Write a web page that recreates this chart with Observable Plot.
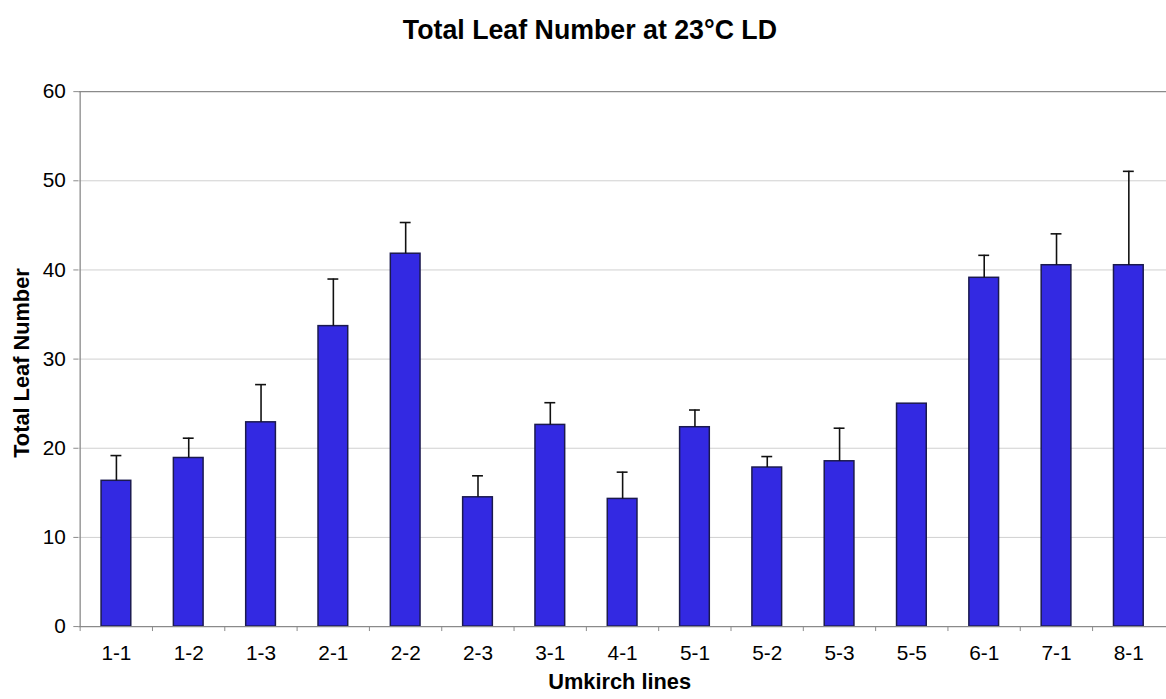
<!DOCTYPE html>
<html>
<head>
<meta charset="utf-8">
<script src="https://cdn.jsdelivr.net/npm/d3@7"></script>
<script src="https://cdn.jsdelivr.net/npm/@observablehq/plot@0.6"></script>
<style>
  html, body { margin: 0; padding: 0; background: #fff; overflow: hidden; }
  #chart { width: 1166px; height: 699px; overflow: hidden; }
</style>
</head>
<body>
<div id="chart"></div>
<script>
// Umkirch lines and their mean total leaf number (upper error shown as whisker)
const lines = ["1-1", "1-2", "1-3", "2-1", "2-2", "2-3", "3-1", "4-1", "5-1", "5-2", "5-3", "5-5", "6-1", "7-1", "8-1"];
const meanLeaves = [16.35, 18.91, 22.91, 33.70, 41.82, 14.50, 22.62, 14.32, 22.36, 17.84, 18.54, 25.00, 39.12, 40.53, 40.53];
const errLeaves = [2.83, 2.22, 4.23, 5.28, 3.50, 2.41, 2.49, 3.00, 1.93, 1.23, 3.71, 0, 2.52, 3.52, 10.53];
const yTicks = [0, 10, 20, 30, 40, 50, 60];

const titleText = "Total Leaf Number at 23°C LD";
const yTitle = "Total Leaf Number";
const xTitle = "Umkirch lines";

const rows = lines.map((line, i) => ({line, mean: meanLeaves[i], err: errLeaves[i]}));
const withErr = rows.filter(d => d.err > 0);

const W = 1177, H = 699, ML = 79, MR = 0, MT = 92, MB = 67;
const step = (W - ML - MR) / lines.length;
const pad = 0.59;
const bandwidth = step * (1 - pad);
const capInset = (bandwidth - 11) / 2;

const axisGrey = "#8a8a8a";
const font = "'Liberation Sans', Arial, Helvetica, sans-serif";

const chart = Plot.plot({
  width: W,
  height: H,
  marginTop: MT,
  marginBottom: MB,
  marginLeft: ML,
  marginRight: MR,
  style: {fontFamily: font, fontSize: "20px", color: "#000", background: "#fff", overflow: "visible"},
  x: {domain: lines, paddingInner: pad, paddingOuter: pad / 2, label: null},
  y: {domain: [0, 60], label: null},
  marks: [
    Plot.gridY(yTicks.filter(v => v > 0 && v < 60), {stroke: "#cfcfcf", strokeOpacity: 1}),
    Plot.ruleY([60], {stroke: axisGrey, strokeWidth: 1.3}),
    Plot.ruleX(lines.slice(0, 1), {x: d => d, dx: -step / 2, stroke: axisGrey, strokeWidth: 1.3}),
    Plot.barY(rows, {x: "line", y: "mean", fill: "#3329e2", stroke: "#1b1a4e", strokeWidth: 1.5}),
    Plot.ruleX(withErr, {x: "line", y1: "mean", y2: d => d.mean + d.err, stroke: "#111", strokeWidth: 1.6}),
    Plot.tickY(withErr, {x: "line", y: d => d.mean + d.err, insetLeft: capInset, insetRight: capInset, stroke: "#111", strokeWidth: 1.6}),
    Plot.ruleY([0], {stroke: axisGrey, strokeWidth: 1.3}),
    Plot.axisY({ticks: yTicks, tickSize: 5, tickPadding: 8, stroke: axisGrey, label: null, fontSize: 21}),
    Plot.axisX({ticks: lines, tickSize: 5, tickFormat: () => "", dx: -step / 2, stroke: axisGrey, label: null}),
    Plot.axisX({tickSize: 0, tickPadding: 19, label: null, fontSize: 21}),
    Plot.text([titleText], {frameAnchor: "top", dx: -33, dy: -72, fontSize: 27, fontWeight: "bold"}),
    Plot.text([yTitle], {frameAnchor: "left", textAnchor: "middle", dx: -57, dy: 4, rotate: -90, fontSize: 22, fontWeight: "bold"}),
    Plot.text([xTitle], {frameAnchor: "bottom", dx: -3, dy: 63, fontSize: 22, fontWeight: "bold"})
  ]
});

document.getElementById("chart").appendChild(chart);
</script>
</body>
</html>
